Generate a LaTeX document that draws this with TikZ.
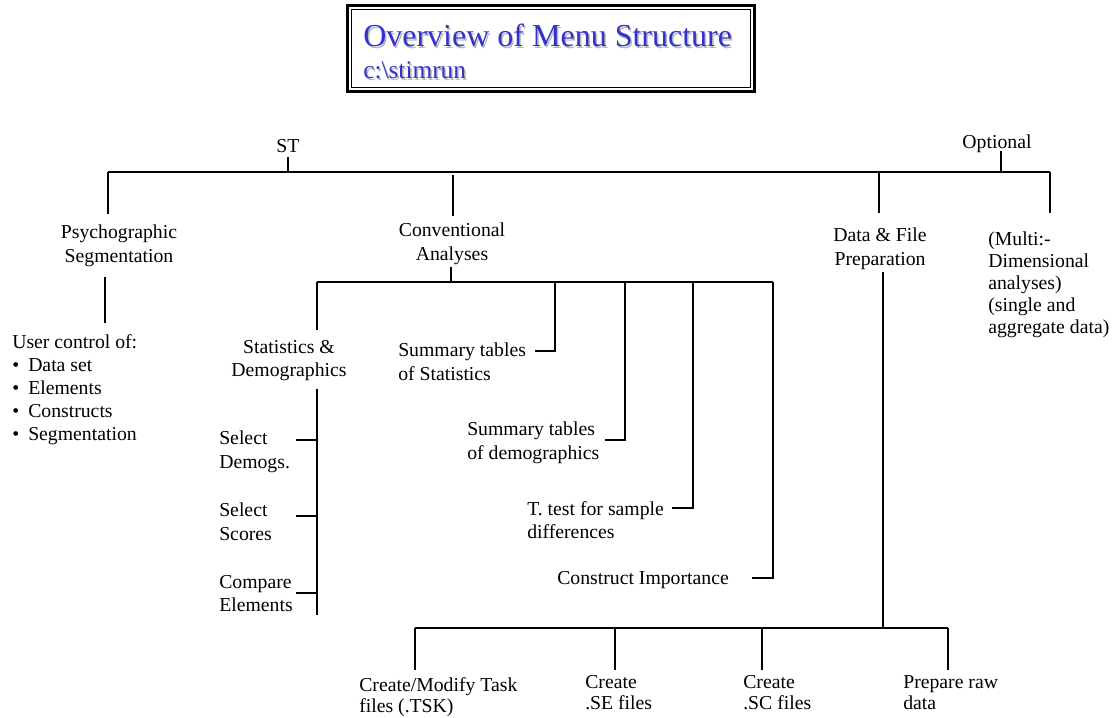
\documentclass[tikz,border=0pt]{standalone}
\usepackage{fontspec}
\setmainfont{Liberation Serif}
\definecolor{titleblue}{RGB}{51,51,204}
\definecolor{shade}{RGB}{185,185,185}
\begin{document}
\begin{tikzpicture}[x=0.75pt,y=-0.75pt,
  txt/.style={inner sep=0pt, font=\fontsize{14.8}{17.6}\selectfont},
  lblc/.style={txt, align=center, anchor=north},
  lbll/.style={txt, align=left, anchor=north west},
  wire/.style={line width=1.5pt},
  ttl/.style={inner sep=0pt, anchor=base west, font=\fontsize{24}{28}\selectfont},
  sub/.style={inner sep=0pt, anchor=base west, font=\fontsize{19}{22}\selectfont}]
\useasboundingbox (0,0) rectangle (1120,717);

% --- title panel with double frame ---
\draw[line width=2.25pt] (347.5,5.5) rectangle (754.5,91.5);
\draw[line width=0.75pt] (351.5,9.5) rectangle (750.5,87.5);
\node[ttl, text=shade] (titleshadow) at (364.5,48.5) {Overview of Menu Structure};
\node[ttl, text=titleblue] (title) at (363,47) {Overview of Menu Structure};
\node[sub, text=shade] (pathshadow) at (364.5,80.5) {c:\textbackslash stimrun};
\node[sub, text=titleblue] (path) at (363,79) {c:\textbackslash stimrun};

% --- top level ---
\node[lblc] (st) at (288,139) {ST};
\node[lblc] (opt) at (997,135) {Optional};

\node[lblc] (psych) at (119,225) {Psychographic\\Segmentation};
\node[lblc] (conv) at (452,223) {Conventional\\Analyses};
\node[lblc] (data) at (880,228) {Data \& File\\Preparation};
\node[lbll, font=\fontsize{14.8}{16.5}\selectfont] (multi) at (988,232)
  {(Multi:-\\Dimensional\\analyses)\\(single and\\aggregate data)};

\node[lbll, font=\fontsize{14.8}{17.25}\selectfont] (user) at (12,334)
  {User control of:\\
   \makebox[12pt][l]{\textbullet}Data set\\
   \makebox[12pt][l]{\textbullet}Elements\\
   \makebox[12pt][l]{\textbullet}Constructs\\
   \makebox[12pt][l]{\textbullet}Segmentation};

% --- conventional analyses branch ---
\node[lblc] (stats) at (289,340) {Statistics \&\\Demographics};
\node[lbll] (sumstat) at (398,343) {Summary tables\\of Statistics};
\node[lbll] (sumdemo) at (467,422) {Summary tables\\of demographics};
\node[lbll] (ttest) at (527,501) {T. test for sample\\differences};
\node[lbll] (cimp) at (557,571) {Construct Importance};

\node[lbll] (seldem) at (219,431) {Select\\Demogs.};
\node[lbll] (selsc) at (219,503) {Select\\Scores};
\node[lbll] (cmpel) at (219,575) {Compare\\Elements};

% --- data & file preparation branch ---
\node[lbll, font=\fontsize{14.8}{16.1}\selectfont] (task) at (359,677) {Create/Modify Task\\files (.TSK)};
\node[lbll, font=\fontsize{14.8}{16.1}\selectfont] (se) at (585,675) {Create\\.SE files};
\node[lbll, font=\fontsize{14.8}{16.1}\selectfont] (sc) at (743,675) {Create\\.SC files};
\node[lbll, font=\fontsize{14.8}{16.1}\selectfont] (raw) at (903,675) {Prepare raw\\data};

% --- junction points ---
\coordinate (stB) at (288,157);   \coordinate (stJ) at (288,172);
\coordinate (optB) at (1001,151); \coordinate (optJ) at (1001,172);
\coordinate (topL) at (108,172);  \coordinate (topR) at (1050,172);
\coordinate (psychT) at (108,214);
\coordinate (convJ) at (453,175); \coordinate (convT) at (453,216);
\coordinate (dataJ) at (879,172); \coordinate (dataT) at (879,213);
\coordinate (multiT) at (1050,213);
\coordinate (psychB) at (105,277); \coordinate (userT) at (105,323);

\coordinate (convB) at (451,267); \coordinate (convJ2) at (451,282);
\coordinate (midL) at (317,282);  \coordinate (midR) at (773,282);
\coordinate (statsT) at (317,330);
\coordinate (c1) at (555,282); \coordinate (c1e) at (535,351);
\coordinate (c2) at (625,282); \coordinate (c2e) at (605,440);
\coordinate (c3) at (693,282); \coordinate (c3e) at (672,508);
\coordinate (c4e) at (752,578);

\coordinate (statsB) at (317,389); \coordinate (statsE) at (317,615);
\coordinate (s1) at (296,440); \coordinate (s2) at (296,516); \coordinate (s3) at (296,593);

\coordinate (dataB) at (883,272); \coordinate (dataJ2) at (883,628);
\coordinate (botL) at (415,628); \coordinate (botR) at (948,628);
\coordinate (b1) at (415,670); \coordinate (b2) at (615,628); \coordinate (b2e) at (615,670);
\coordinate (b3) at (762,628); \coordinate (b3e) at (762,670); \coordinate (b4e) at (948,670);

% --- connectors ---
\draw[wire] (stB) -- (stJ);
\draw[wire] (optB) -- (optJ);
\draw[wire] (topL) -- (topR);
\draw[wire] (topL) -- (psychT);
\draw[wire] (convJ) -- (convT);
\draw[wire] (dataJ) -- (dataT);
\draw[wire] (topR) -- (multiT);
\draw[wire] (psychB) -- (userT);

\draw[wire] (convB) -- (convJ2);
\draw[wire] (midL) -- (midR);
\draw[wire] (midL) -- (statsT);
\draw[wire] (c1) |- (c1e);
\draw[wire] (c2) |- (c2e);
\draw[wire] (c3) |- (c3e);
\draw[wire] (midR) |- (c4e);

\draw[wire] (statsB) -- (statsE);
\draw[wire] (s1) -- (s1 -| statsB);
\draw[wire] (s2) -- (s2 -| statsB);
\draw[wire] (s3) -- (s3 -| statsB);

\draw[wire] (dataB) -- (dataJ2);
\draw[wire] (botL) -- (botR);
\draw[wire] (botL) -- (b1);
\draw[wire] (b2) -- (b2e);
\draw[wire] (b3) -- (b3e);
\draw[wire] (botR) -- (b4e);
\end{tikzpicture}
\end{document}
